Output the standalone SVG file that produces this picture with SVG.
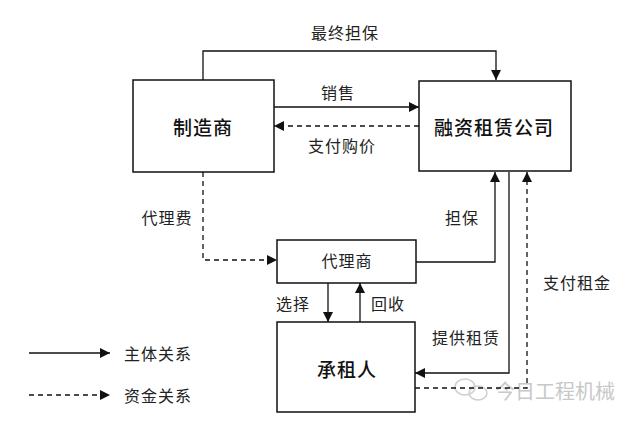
<svg xmlns="http://www.w3.org/2000/svg" width="640" height="424" viewBox="0 0 640 424">
<style>
.box{fill:#fff;stroke:#111;stroke-width:1.5}
.ln{fill:none;stroke:#111;stroke-width:1.3}
.dash{fill:none;stroke:#111;stroke-width:1.3;stroke-dasharray:5,4}
.t{font-family:"Noto Sans CJK SC","Noto Sans CJK JP",sans-serif;font-size:16px;letter-spacing:1px;fill:#222;text-anchor:middle;dominant-baseline:central}
.bt{font-family:"Noto Sans CJK SC","Noto Sans CJK JP",sans-serif;font-size:19px;font-weight:500;letter-spacing:1px;fill:#111;text-anchor:middle;dominant-baseline:central}
.wm{font-family:"Noto Sans CJK SC","Noto Sans CJK JP",sans-serif;font-size:20px;fill:#c8c8c8;text-anchor:start;dominant-baseline:central}
</style>
<defs>
<marker id="ah" viewBox="0 0 10 10" refX="10" refY="5" markerWidth="10" markerHeight="10" markerUnits="userSpaceOnUse" orient="auto">
<path d="M0,0 L10,5 L0,10 Z" fill="#111"/>
</marker>
</defs>
<rect width="640" height="424" fill="#fff"/>
<g id="watermark">
<g fill="none" stroke="#cfcfcf" stroke-width="1.5">
<ellipse cx="465" cy="387" rx="10" ry="8"/>
<ellipse cx="478" cy="393" rx="9" ry="7"/>
</g>
<text class="wm" x="495" y="390">今日工程机械</text>
</g>
<g id="connectors">
<path class="ln" d="M203,80 V51 H496 V80" marker-end="url(#ah)"/>
<path class="ln" d="M274,107 H419" marker-end="url(#ah)"/>
<path class="dash" d="M419,126 H274" marker-end="url(#ah)"/>
<path class="dash" d="M203,172 V260 H277" marker-end="url(#ah)"/>
<path class="ln" d="M416,262 H495 V172" marker-end="url(#ah)"/>
<path class="ln" d="M328,283 V322" marker-end="url(#ah)"/>
<path class="ln" d="M360,322 V283" marker-end="url(#ah)"/>
<path class="ln" d="M509,172 V373 H415" marker-end="url(#ah)"/>
<path class="dash" d="M415,388 H527 V172" marker-end="url(#ah)"/>
<path class="ln" d="M29,353 H110" marker-end="url(#ah)"/>
<path class="dash" d="M29,395 H110" marker-end="url(#ah)"/>
</g>
<g id="labels">
<text class="t" x="345" y="32">最终担保</text>
<text class="t" x="338" y="92">销售</text>
<text class="t" x="342" y="145">支付购价</text>
<text class="t" x="167" y="217">代理费</text>
<text class="t" x="462" y="217">担保</text>
<text class="t" x="293" y="303">选择</text>
<text class="t" x="388" y="303">回收</text>
<text class="t" x="466" y="337">提供租赁</text>
<text class="t" x="577" y="282">支付租金</text>
<text class="t" x="158" y="353">主体关系</text>
<text class="t" x="158" y="395">资金关系</text>
</g>
<g id="manufacturer">
<rect class="box" x="133" y="80" width="141" height="92"/>
<text class="bt" x="203" y="126">制造商</text>
</g>
<g id="leasing-company">
<rect class="box" x="419" y="81" width="152" height="90"/>
<text class="bt" x="494" y="126">融资租赁公司</text>
</g>
<g id="agent">
<rect class="box" x="277" y="240" width="139" height="43"/>
<text class="t" x="347" y="260">代理商</text>
</g>
<g id="lessee">
<rect class="box" x="277" y="322" width="138" height="90"/>
<text class="bt" x="347" y="368">承租人</text>
</g>
</svg>
